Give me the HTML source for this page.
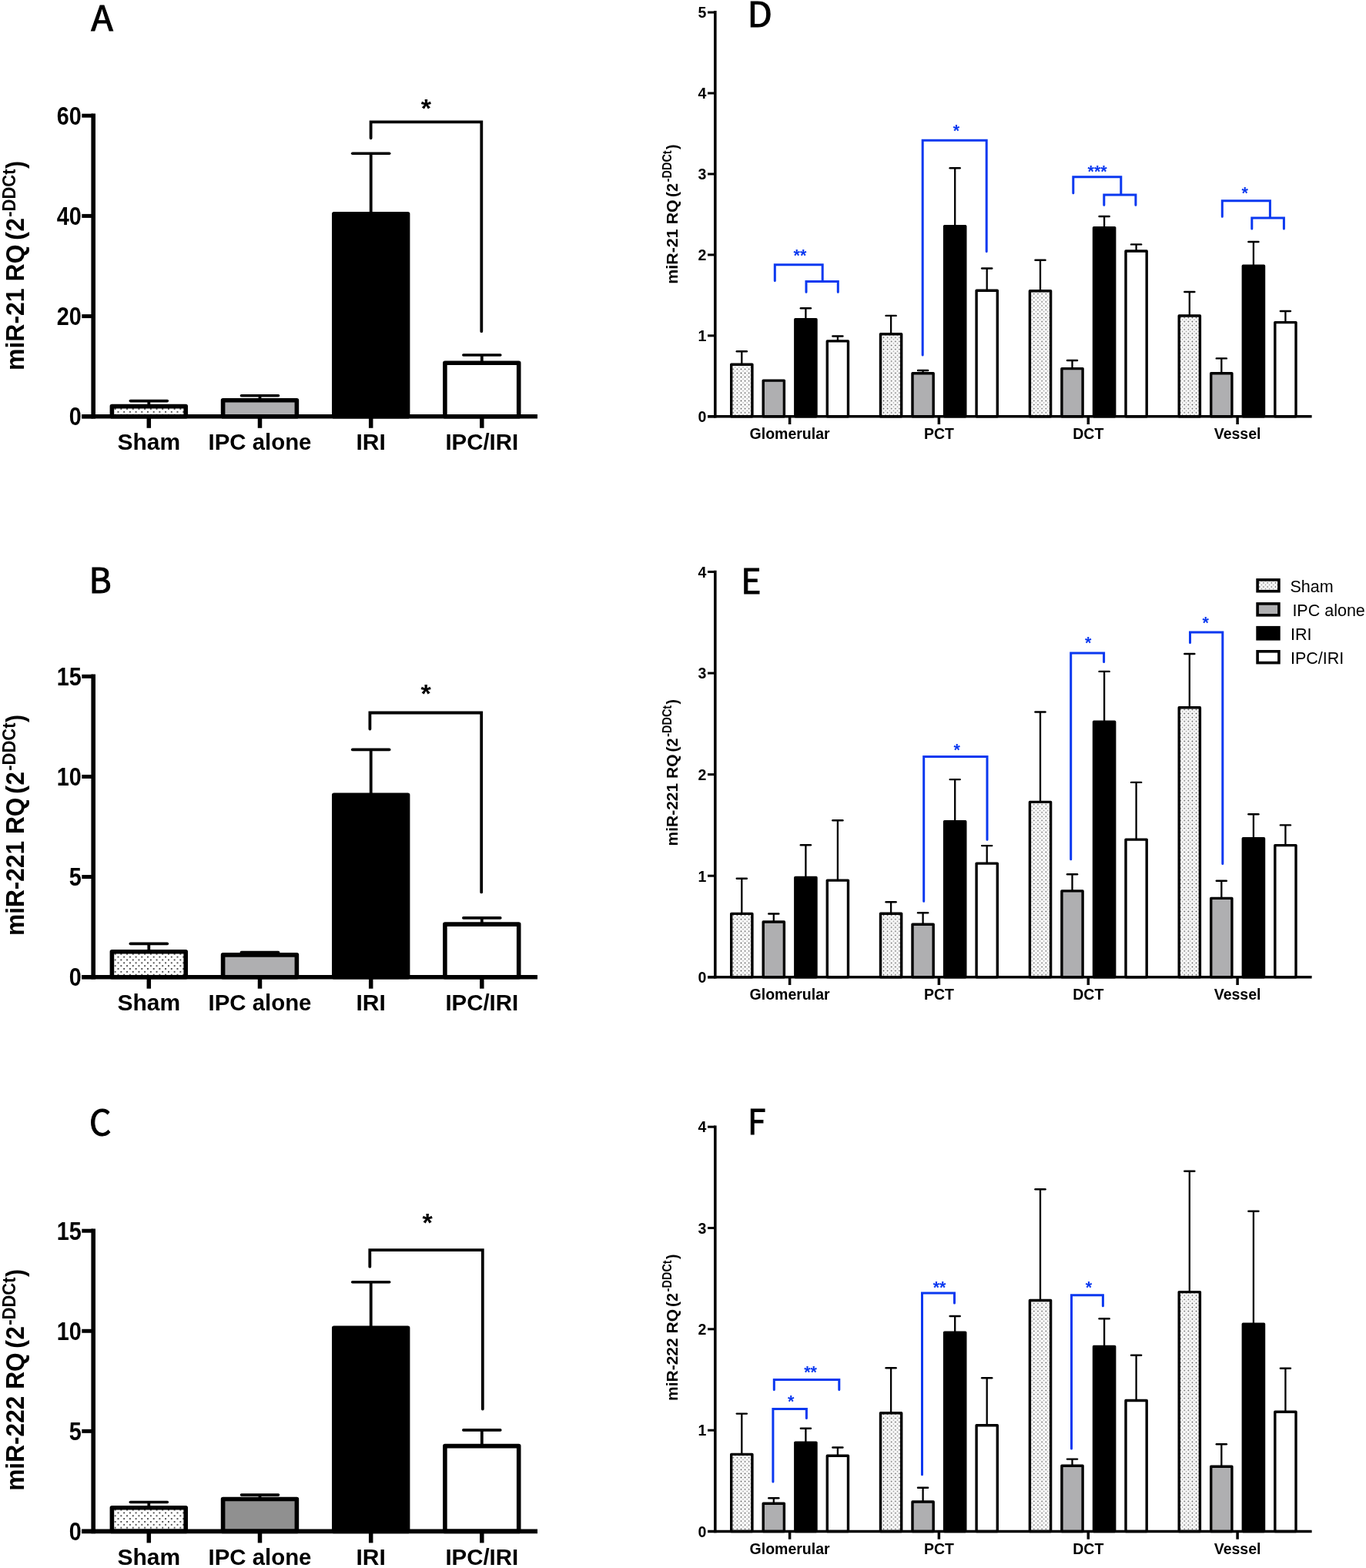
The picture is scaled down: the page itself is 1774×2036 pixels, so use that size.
<!DOCTYPE html>
<html><head><meta charset="utf-8"><title>miR-21 / miR-221 / miR-222 expression</title>
<style>html,body{margin:0;padding:0;background:#fff;width:1774px;height:2036px;overflow:hidden}svg{display:block}</style>
</head><body>
<svg width="1774" height="2036" viewBox="0 0 1774 2036" font-family="'Liberation Sans', Arial, Helvetica, sans-serif"><defs><pattern id="dotA" patternUnits="userSpaceOnUse" width="7.7" height="7.7" x="151.57" y="532.88"><rect width="7.7" height="7.7" fill="#fff"/><circle cx="1.925" cy="1.925" r="1.0" fill="#1a1a1a"/><circle cx="5.775" cy="5.775" r="1.0" fill="#1a1a1a"/></pattern><pattern id="dotB" patternUnits="userSpaceOnUse" width="7.7" height="7.7" x="151.57" y="1240.67"><rect width="7.7" height="7.7" fill="#fff"/><circle cx="1.925" cy="1.925" r="1.0" fill="#1a1a1a"/><circle cx="5.775" cy="5.775" r="1.0" fill="#1a1a1a"/></pattern><pattern id="dotC" patternUnits="userSpaceOnUse" width="7.7" height="7.7" x="151.57" y="1962.48"><rect width="7.7" height="7.7" fill="#fff"/><circle cx="1.925" cy="1.925" r="1.0" fill="#1a1a1a"/><circle cx="5.775" cy="5.775" r="1.0" fill="#1a1a1a"/></pattern><pattern id="dotR" patternUnits="userSpaceOnUse" width="5.14" height="5.14" x="0" y="0">
<rect width="5.14" height="5.14" fill="#fcfcfc"/>
<circle cx="1.3" cy="1.3" r="0.85" fill="#4a4a4a"/>
<circle cx="3.87" cy="3.87" r="0.85" fill="#9a9a9a"/>
</pattern></defs><rect width="1774" height="2036" fill="#fff"/><rect x="145.4" y="527.6" width="95.8" height="13.2" fill="url(#dotA)" stroke="#000" stroke-width="5.6" stroke-linejoin="round"/>
<rect x="289.6" y="519.7" width="95.8" height="21.1" fill="#afafb1" stroke="#000" stroke-width="5.6" stroke-linejoin="round"/>
<rect x="433.8" y="277.8" width="95.8" height="263" fill="#000" stroke="#000" stroke-width="5.6" stroke-linejoin="round"/>
<rect x="577.9" y="471.3" width="95.8" height="69.5" fill="#fff" stroke="#000" stroke-width="5.6" stroke-linejoin="round"/>
<line x1="193.3" y1="525.8" x2="193.3" y2="520.6" stroke="#000" stroke-width="3.8" stroke-linecap="butt"/>
<line x1="169.3" y1="520.6" x2="217.3" y2="520.6" stroke="#000" stroke-width="3.6" stroke-linecap="round"/>
<line x1="337.5" y1="517.9" x2="337.5" y2="513.7" stroke="#000" stroke-width="3.8" stroke-linecap="butt"/>
<line x1="313.5" y1="513.7" x2="361.5" y2="513.7" stroke="#000" stroke-width="3.6" stroke-linecap="round"/>
<line x1="481.7" y1="276" x2="481.7" y2="199.3" stroke="#000" stroke-width="3.8" stroke-linecap="butt"/>
<line x1="457.7" y1="199.3" x2="505.7" y2="199.3" stroke="#000" stroke-width="3.6" stroke-linecap="round"/>
<line x1="625.8" y1="469.5" x2="625.8" y2="461" stroke="#000" stroke-width="3.8" stroke-linecap="butt"/>
<line x1="601.8" y1="461" x2="649.8" y2="461" stroke="#000" stroke-width="3.6" stroke-linecap="round"/>
<line x1="121.2" y1="147.4" x2="121.2" y2="543.6" stroke="#000" stroke-width="5.6" stroke-linecap="butt"/>
<line x1="106.2" y1="540.8" x2="698" y2="540.8" stroke="#000" stroke-width="5.6" stroke-linecap="butt"/>
<line x1="106.3" y1="540.8" x2="121.2" y2="540.8" stroke="#000" stroke-width="5" stroke-linecap="butt"/>
<text transform="translate(105.8,552.4) scale(0.96,1.1)" font-size="30" font-weight="bold" text-anchor="end">0</text>
<line x1="106.3" y1="410.6" x2="121.2" y2="410.6" stroke="#000" stroke-width="5" stroke-linecap="butt"/>
<text transform="translate(105.8,422.2) scale(0.96,1.1)" font-size="30" font-weight="bold" text-anchor="end">20</text>
<line x1="106.3" y1="280.4" x2="121.2" y2="280.4" stroke="#000" stroke-width="5" stroke-linecap="butt"/>
<text transform="translate(105.8,292) scale(0.96,1.1)" font-size="30" font-weight="bold" text-anchor="end">40</text>
<line x1="106.3" y1="150.2" x2="121.2" y2="150.2" stroke="#000" stroke-width="5" stroke-linecap="butt"/>
<text transform="translate(105.8,161.8) scale(0.96,1.1)" font-size="30" font-weight="bold" text-anchor="end">60</text>
<line x1="193.3" y1="540.8" x2="193.3" y2="555.8" stroke="#000" stroke-width="5.5" stroke-linecap="butt"/>
<text transform="translate(193.3,584.4) scale(1,1)" font-size="30" font-weight="bold" text-anchor="middle">Sham</text>
<line x1="337.5" y1="540.8" x2="337.5" y2="555.8" stroke="#000" stroke-width="5.5" stroke-linecap="butt"/>
<text transform="translate(337.5,584.4) scale(0.98,1)" font-size="30" font-weight="bold" text-anchor="middle">IPC alone</text>
<line x1="481.7" y1="540.8" x2="481.7" y2="555.8" stroke="#000" stroke-width="5.5" stroke-linecap="butt"/>
<text transform="translate(481.7,584.4) scale(1,1)" font-size="30" font-weight="bold" text-anchor="middle">IRI</text>
<line x1="625.8" y1="540.8" x2="625.8" y2="555.8" stroke="#000" stroke-width="5.5" stroke-linecap="butt"/>
<text transform="translate(625.8,584.4) scale(0.98,1)" font-size="30" font-weight="bold" text-anchor="middle">IPC/IRI</text>
<path d="M481.6,179.3 V158.3 H625.3 V430.2" fill="none" stroke="#000" stroke-width="3.8" stroke-linecap="round" stroke-linejoin="miter"/>
<text x="553.3" y="152.2" font-size="34" font-weight="bold" text-anchor="middle" fill="#000">*</text>
<text transform="translate(31.4,481.05) rotate(-90) scale(0.97,1)" font-size="33" font-weight="bold">miR-21 RQ</text>
<text transform="translate(31.4,311.9) rotate(-90) scale(1,1)" font-size="33" font-weight="bold">(</text>
<text transform="translate(31.4,300.55) rotate(-90) scale(0.95,1)" font-size="33" font-weight="bold">2</text>
<text transform="translate(20.1,281.7) rotate(-90) scale(0.9,1)" font-size="24.4" font-weight="bold">-DDCt</text>
<text transform="translate(31.4,218.9) rotate(-90) scale(0.92,1)" font-size="33" font-weight="bold">)</text>
<text transform="translate(118.33,40.1) scale(1.06,1)" font-family="'Noto Sans CJK JP', 'Noto Sans CJK SC', 'Liberation Sans', sans-serif" font-size="44.5" font-weight="normal" stroke="#000" stroke-width="1.0">A</text>
<rect x="145.4" y="1235.7" width="95.8" height="33" fill="url(#dotB)" stroke="#000" stroke-width="5.6" stroke-linejoin="round"/>
<rect x="289.6" y="1239.9" width="95.8" height="28.8" fill="#afafb1" stroke="#000" stroke-width="5.6" stroke-linejoin="round"/>
<rect x="433.8" y="1032.3" width="95.8" height="236.4" fill="#000" stroke="#000" stroke-width="5.6" stroke-linejoin="round"/>
<rect x="577.9" y="1200.1" width="95.8" height="68.6" fill="#fff" stroke="#000" stroke-width="5.6" stroke-linejoin="round"/>
<line x1="193.3" y1="1233.9" x2="193.3" y2="1225.4" stroke="#000" stroke-width="3.8" stroke-linecap="butt"/>
<line x1="169.3" y1="1225.4" x2="217.3" y2="1225.4" stroke="#000" stroke-width="3.6" stroke-linecap="round"/>
<line x1="337.5" y1="1238.1" x2="337.5" y2="1236.6" stroke="#000" stroke-width="3.8" stroke-linecap="butt"/>
<line x1="313.5" y1="1236.6" x2="361.5" y2="1236.6" stroke="#000" stroke-width="3.6" stroke-linecap="round"/>
<line x1="481.7" y1="1030.5" x2="481.7" y2="973.4" stroke="#000" stroke-width="3.8" stroke-linecap="butt"/>
<line x1="457.7" y1="973.4" x2="505.7" y2="973.4" stroke="#000" stroke-width="3.6" stroke-linecap="round"/>
<line x1="625.8" y1="1198.3" x2="625.8" y2="1191.9" stroke="#000" stroke-width="3.8" stroke-linecap="butt"/>
<line x1="601.8" y1="1191.9" x2="649.8" y2="1191.9" stroke="#000" stroke-width="3.6" stroke-linecap="round"/>
<line x1="121.2" y1="875.5" x2="121.2" y2="1271.5" stroke="#000" stroke-width="5.6" stroke-linecap="butt"/>
<line x1="106.2" y1="1268.7" x2="698" y2="1268.7" stroke="#000" stroke-width="5.6" stroke-linecap="butt"/>
<line x1="106.3" y1="1268.7" x2="121.2" y2="1268.7" stroke="#000" stroke-width="5" stroke-linecap="butt"/>
<text transform="translate(105.8,1280.3) scale(0.96,1.1)" font-size="30" font-weight="bold" text-anchor="end">0</text>
<line x1="106.3" y1="1138.57" x2="121.2" y2="1138.57" stroke="#000" stroke-width="5" stroke-linecap="butt"/>
<text transform="translate(105.8,1150.17) scale(0.96,1.1)" font-size="30" font-weight="bold" text-anchor="end">5</text>
<line x1="106.3" y1="1008.43" x2="121.2" y2="1008.43" stroke="#000" stroke-width="5" stroke-linecap="butt"/>
<text transform="translate(105.8,1020.03) scale(0.96,1.1)" font-size="30" font-weight="bold" text-anchor="end">10</text>
<line x1="106.3" y1="878.3" x2="121.2" y2="878.3" stroke="#000" stroke-width="5" stroke-linecap="butt"/>
<text transform="translate(105.8,889.9) scale(0.96,1.1)" font-size="30" font-weight="bold" text-anchor="end">15</text>
<line x1="193.3" y1="1268.7" x2="193.3" y2="1283.7" stroke="#000" stroke-width="5.5" stroke-linecap="butt"/>
<text transform="translate(193.3,1312.3) scale(1,1)" font-size="30" font-weight="bold" text-anchor="middle">Sham</text>
<line x1="337.5" y1="1268.7" x2="337.5" y2="1283.7" stroke="#000" stroke-width="5.5" stroke-linecap="butt"/>
<text transform="translate(337.5,1312.3) scale(0.98,1)" font-size="30" font-weight="bold" text-anchor="middle">IPC alone</text>
<line x1="481.7" y1="1268.7" x2="481.7" y2="1283.7" stroke="#000" stroke-width="5.5" stroke-linecap="butt"/>
<text transform="translate(481.7,1312.3) scale(1,1)" font-size="30" font-weight="bold" text-anchor="middle">IRI</text>
<line x1="625.8" y1="1268.7" x2="625.8" y2="1283.7" stroke="#000" stroke-width="5.5" stroke-linecap="butt"/>
<text transform="translate(625.8,1312.3) scale(0.98,1)" font-size="30" font-weight="bold" text-anchor="middle">IPC/IRI</text>
<path d="M480.4,946.5 V925.5 H625.2 V1158.4" fill="none" stroke="#000" stroke-width="3.8" stroke-linecap="round" stroke-linejoin="miter"/>
<text x="553" y="912.3" font-size="34" font-weight="bold" text-anchor="middle" fill="#000">*</text>
<text transform="translate(31.4,1215.01) rotate(-90) scale(0.96,1)" font-size="33" font-weight="bold">miR-221 RQ</text>
<text transform="translate(31.4,1030.9) rotate(-90) scale(1,1)" font-size="33" font-weight="bold">(</text>
<text transform="translate(31.4,1019.55) rotate(-90) scale(0.95,1)" font-size="33" font-weight="bold">2</text>
<text transform="translate(20.1,1000.7) rotate(-90) scale(0.9,1)" font-size="24.4" font-weight="bold">-DDCt</text>
<text transform="translate(31.4,937.9) rotate(-90) scale(0.92,1)" font-size="33" font-weight="bold">)</text>
<text transform="translate(115.4,770.3) scale(1,1)" font-family="'Noto Sans CJK JP', 'Noto Sans CJK SC', 'Liberation Sans', sans-serif" font-size="44.5" font-weight="normal" stroke="#000" stroke-width="1.0">B</text>
<rect x="145.4" y="1957.8" width="95.8" height="30.6" fill="url(#dotC)" stroke="#000" stroke-width="5.6" stroke-linejoin="round"/>
<rect x="289.6" y="1946.5" width="95.8" height="41.9" fill="#909090" stroke="#000" stroke-width="5.6" stroke-linejoin="round"/>
<rect x="433.8" y="1724.2" width="95.8" height="264.2" fill="#000" stroke="#000" stroke-width="5.6" stroke-linejoin="round"/>
<rect x="577.9" y="1877.6" width="95.8" height="110.8" fill="#fff" stroke="#000" stroke-width="5.6" stroke-linejoin="round"/>
<line x1="193.3" y1="1956" x2="193.3" y2="1950.5" stroke="#000" stroke-width="3.8" stroke-linecap="butt"/>
<line x1="169.3" y1="1950.5" x2="217.3" y2="1950.5" stroke="#000" stroke-width="3.6" stroke-linecap="round"/>
<line x1="337.5" y1="1944.7" x2="337.5" y2="1941.1" stroke="#000" stroke-width="3.8" stroke-linecap="butt"/>
<line x1="313.5" y1="1941.1" x2="361.5" y2="1941.1" stroke="#000" stroke-width="3.6" stroke-linecap="round"/>
<line x1="481.7" y1="1722.4" x2="481.7" y2="1664.8" stroke="#000" stroke-width="3.8" stroke-linecap="butt"/>
<line x1="457.7" y1="1664.8" x2="505.7" y2="1664.8" stroke="#000" stroke-width="3.6" stroke-linecap="round"/>
<line x1="625.8" y1="1875.8" x2="625.8" y2="1856.9" stroke="#000" stroke-width="3.8" stroke-linecap="butt"/>
<line x1="601.8" y1="1856.9" x2="649.8" y2="1856.9" stroke="#000" stroke-width="3.6" stroke-linecap="round"/>
<line x1="121.2" y1="1595.4" x2="121.2" y2="1991.2" stroke="#000" stroke-width="5.6" stroke-linecap="butt"/>
<line x1="106.2" y1="1988.4" x2="698" y2="1988.4" stroke="#000" stroke-width="5.6" stroke-linecap="butt"/>
<line x1="106.3" y1="1988.4" x2="121.2" y2="1988.4" stroke="#000" stroke-width="5" stroke-linecap="butt"/>
<text transform="translate(105.8,2000) scale(0.96,1.1)" font-size="30" font-weight="bold" text-anchor="end">0</text>
<line x1="106.3" y1="1858.33" x2="121.2" y2="1858.33" stroke="#000" stroke-width="5" stroke-linecap="butt"/>
<text transform="translate(105.8,1869.93) scale(0.96,1.1)" font-size="30" font-weight="bold" text-anchor="end">5</text>
<line x1="106.3" y1="1728.27" x2="121.2" y2="1728.27" stroke="#000" stroke-width="5" stroke-linecap="butt"/>
<text transform="translate(105.8,1739.87) scale(0.96,1.1)" font-size="30" font-weight="bold" text-anchor="end">10</text>
<line x1="106.3" y1="1598.2" x2="121.2" y2="1598.2" stroke="#000" stroke-width="5" stroke-linecap="butt"/>
<text transform="translate(105.8,1609.8) scale(0.96,1.1)" font-size="30" font-weight="bold" text-anchor="end">15</text>
<line x1="193.3" y1="1988.4" x2="193.3" y2="2003.4" stroke="#000" stroke-width="5.5" stroke-linecap="butt"/>
<text transform="translate(193.3,2032) scale(1,1)" font-size="30" font-weight="bold" text-anchor="middle">Sham</text>
<line x1="337.5" y1="1988.4" x2="337.5" y2="2003.4" stroke="#000" stroke-width="5.5" stroke-linecap="butt"/>
<text transform="translate(337.5,2032) scale(0.98,1)" font-size="30" font-weight="bold" text-anchor="middle">IPC alone</text>
<line x1="481.7" y1="1988.4" x2="481.7" y2="2003.4" stroke="#000" stroke-width="5.5" stroke-linecap="butt"/>
<text transform="translate(481.7,2032) scale(1,1)" font-size="30" font-weight="bold" text-anchor="middle">IRI</text>
<line x1="625.8" y1="1988.4" x2="625.8" y2="2003.4" stroke="#000" stroke-width="5.5" stroke-linecap="butt"/>
<text transform="translate(625.8,2032) scale(0.98,1)" font-size="30" font-weight="bold" text-anchor="middle">IPC/IRI</text>
<path d="M480.3,1644.7 V1623.2 H626.8 V1829.6" fill="none" stroke="#000" stroke-width="3.8" stroke-linecap="round" stroke-linejoin="miter"/>
<text x="555.1" y="1599.2" font-size="34" font-weight="bold" text-anchor="middle" fill="#000">*</text>
<text transform="translate(31.4,1935.82) rotate(-90) scale(0.96,1)" font-size="33" font-weight="bold">miR-222 RQ</text>
<text transform="translate(31.4,1750.9) rotate(-90) scale(1,1)" font-size="33" font-weight="bold">(</text>
<text transform="translate(31.4,1739.55) rotate(-90) scale(0.95,1)" font-size="33" font-weight="bold">2</text>
<text transform="translate(20.1,1720.7) rotate(-90) scale(0.9,1)" font-size="24.4" font-weight="bold">-DDCt</text>
<text transform="translate(31.4,1657.9) rotate(-90) scale(0.92,1)" font-size="33" font-weight="bold">)</text>
<text transform="translate(116.1,1473.5) scale(1,1)" font-family="'Noto Sans CJK JP', 'Noto Sans CJK SC', 'Liberation Sans', sans-serif" font-size="44.5" font-weight="normal" stroke="#000" stroke-width="1.0">C</text>
<rect x="949.7" y="473.3" width="27.2" height="67.5" fill="url(#dotR)" stroke="#000" stroke-width="3.4" stroke-linejoin="round"/>
<rect x="991.2" y="494.1" width="27.2" height="46.7" fill="#afafb1" stroke="#000" stroke-width="3.4" stroke-linejoin="round"/>
<rect x="1032.8" y="414.8" width="27.2" height="126" fill="#000" stroke="#000" stroke-width="3.4" stroke-linejoin="round"/>
<rect x="1074.3" y="442.9" width="27.2" height="97.9" fill="#fff" stroke="#000" stroke-width="3.4" stroke-linejoin="round"/>
<rect x="1143.5" y="433.7" width="27.2" height="107.1" fill="url(#dotR)" stroke="#000" stroke-width="3.4" stroke-linejoin="round"/>
<rect x="1185" y="484.7" width="27.2" height="56.1" fill="#afafb1" stroke="#000" stroke-width="3.4" stroke-linejoin="round"/>
<rect x="1226.6" y="293.7" width="27.2" height="247.1" fill="#000" stroke="#000" stroke-width="3.4" stroke-linejoin="round"/>
<rect x="1268.1" y="377.2" width="27.2" height="163.6" fill="#fff" stroke="#000" stroke-width="3.4" stroke-linejoin="round"/>
<rect x="1337.4" y="377.7" width="27.2" height="163.1" fill="url(#dotR)" stroke="#000" stroke-width="3.4" stroke-linejoin="round"/>
<rect x="1378.9" y="478.6" width="27.2" height="62.2" fill="#afafb1" stroke="#000" stroke-width="3.4" stroke-linejoin="round"/>
<rect x="1420.5" y="295.6" width="27.2" height="245.2" fill="#000" stroke="#000" stroke-width="3.4" stroke-linejoin="round"/>
<rect x="1462" y="326" width="27.2" height="214.8" fill="#fff" stroke="#000" stroke-width="3.4" stroke-linejoin="round"/>
<rect x="1531.2" y="410" width="27.2" height="130.8" fill="url(#dotR)" stroke="#000" stroke-width="3.4" stroke-linejoin="round"/>
<rect x="1572.7" y="484.8" width="27.2" height="56" fill="#afafb1" stroke="#000" stroke-width="3.4" stroke-linejoin="round"/>
<rect x="1614.3" y="345.3" width="27.2" height="195.5" fill="#000" stroke="#000" stroke-width="3.4" stroke-linejoin="round"/>
<rect x="1655.8" y="418.6" width="27.2" height="122.2" fill="#fff" stroke="#000" stroke-width="3.4" stroke-linejoin="round"/>
<line x1="963.3" y1="472.6" x2="963.3" y2="456.2" stroke="#000" stroke-width="2.3" stroke-linecap="butt"/>
<line x1="956.75" y1="456.2" x2="969.85" y2="456.2" stroke="#000" stroke-width="2.4" stroke-linecap="round"/>
<line x1="1046.4" y1="414.1" x2="1046.4" y2="400.3" stroke="#000" stroke-width="2.3" stroke-linecap="butt"/>
<line x1="1039.85" y1="400.3" x2="1052.95" y2="400.3" stroke="#000" stroke-width="2.4" stroke-linecap="round"/>
<line x1="1087.9" y1="442.2" x2="1087.9" y2="436.5" stroke="#000" stroke-width="2.3" stroke-linecap="butt"/>
<line x1="1081.35" y1="436.5" x2="1094.45" y2="436.5" stroke="#000" stroke-width="2.4" stroke-linecap="round"/>
<line x1="1157.1" y1="433" x2="1157.1" y2="409.9" stroke="#000" stroke-width="2.3" stroke-linecap="butt"/>
<line x1="1150.55" y1="409.9" x2="1163.65" y2="409.9" stroke="#000" stroke-width="2.4" stroke-linecap="round"/>
<line x1="1198.6" y1="484" x2="1198.6" y2="481" stroke="#000" stroke-width="2.3" stroke-linecap="butt"/>
<line x1="1192.05" y1="481" x2="1205.15" y2="481" stroke="#000" stroke-width="2.4" stroke-linecap="round"/>
<line x1="1240.2" y1="293" x2="1240.2" y2="218.3" stroke="#000" stroke-width="2.3" stroke-linecap="butt"/>
<line x1="1233.65" y1="218.3" x2="1246.75" y2="218.3" stroke="#000" stroke-width="2.4" stroke-linecap="round"/>
<line x1="1281.7" y1="376.5" x2="1281.7" y2="348.5" stroke="#000" stroke-width="2.3" stroke-linecap="butt"/>
<line x1="1275.15" y1="348.5" x2="1288.25" y2="348.5" stroke="#000" stroke-width="2.4" stroke-linecap="round"/>
<line x1="1351" y1="377" x2="1351" y2="337.7" stroke="#000" stroke-width="2.3" stroke-linecap="butt"/>
<line x1="1344.45" y1="337.7" x2="1357.55" y2="337.7" stroke="#000" stroke-width="2.4" stroke-linecap="round"/>
<line x1="1392.5" y1="477.9" x2="1392.5" y2="468" stroke="#000" stroke-width="2.3" stroke-linecap="butt"/>
<line x1="1385.95" y1="468" x2="1399.05" y2="468" stroke="#000" stroke-width="2.4" stroke-linecap="round"/>
<line x1="1434.1" y1="294.9" x2="1434.1" y2="281" stroke="#000" stroke-width="2.3" stroke-linecap="butt"/>
<line x1="1427.55" y1="281" x2="1440.65" y2="281" stroke="#000" stroke-width="2.4" stroke-linecap="round"/>
<line x1="1475.6" y1="325.3" x2="1475.6" y2="317.4" stroke="#000" stroke-width="2.3" stroke-linecap="butt"/>
<line x1="1469.05" y1="317.4" x2="1482.15" y2="317.4" stroke="#000" stroke-width="2.4" stroke-linecap="round"/>
<line x1="1544.8" y1="409.3" x2="1544.8" y2="379" stroke="#000" stroke-width="2.3" stroke-linecap="butt"/>
<line x1="1538.25" y1="379" x2="1551.35" y2="379" stroke="#000" stroke-width="2.4" stroke-linecap="round"/>
<line x1="1586.3" y1="484.1" x2="1586.3" y2="465.4" stroke="#000" stroke-width="2.3" stroke-linecap="butt"/>
<line x1="1579.75" y1="465.4" x2="1592.85" y2="465.4" stroke="#000" stroke-width="2.4" stroke-linecap="round"/>
<line x1="1627.9" y1="344.6" x2="1627.9" y2="314" stroke="#000" stroke-width="2.3" stroke-linecap="butt"/>
<line x1="1621.35" y1="314" x2="1634.45" y2="314" stroke="#000" stroke-width="2.4" stroke-linecap="round"/>
<line x1="1669.4" y1="417.9" x2="1669.4" y2="404" stroke="#000" stroke-width="2.3" stroke-linecap="butt"/>
<line x1="1662.85" y1="404" x2="1675.95" y2="404" stroke="#000" stroke-width="2.4" stroke-linecap="round"/>
<line x1="928.8" y1="14.1" x2="928.8" y2="542.6" stroke="#000" stroke-width="3.6" stroke-linecap="butt"/>
<line x1="919" y1="540.8" x2="1703.6" y2="540.8" stroke="#000" stroke-width="3.6" stroke-linecap="butt"/>
<line x1="919" y1="540.8" x2="928.8" y2="540.8" stroke="#000" stroke-width="3" stroke-linecap="butt"/>
<text x="917.3" y="548.1" font-size="19.5" font-weight="bold" text-anchor="end" fill="#000">0</text>
<line x1="919" y1="435.85" x2="928.8" y2="435.85" stroke="#000" stroke-width="3" stroke-linecap="butt"/>
<text x="917.3" y="443.15" font-size="19.5" font-weight="bold" text-anchor="end" fill="#000">1</text>
<line x1="919" y1="330.9" x2="928.8" y2="330.9" stroke="#000" stroke-width="3" stroke-linecap="butt"/>
<text x="917.3" y="338.2" font-size="19.5" font-weight="bold" text-anchor="end" fill="#000">2</text>
<line x1="919" y1="225.95" x2="928.8" y2="225.95" stroke="#000" stroke-width="3" stroke-linecap="butt"/>
<text x="917.3" y="233.25" font-size="19.5" font-weight="bold" text-anchor="end" fill="#000">3</text>
<line x1="919" y1="121" x2="928.8" y2="121" stroke="#000" stroke-width="3" stroke-linecap="butt"/>
<text x="917.3" y="128.3" font-size="19.5" font-weight="bold" text-anchor="end" fill="#000">4</text>
<line x1="919" y1="16.05" x2="928.8" y2="16.05" stroke="#000" stroke-width="3" stroke-linecap="butt"/>
<text x="917.3" y="23.35" font-size="19.5" font-weight="bold" text-anchor="end" fill="#000">5</text>
<line x1="1025.6" y1="540.8" x2="1025.6" y2="551" stroke="#000" stroke-width="3.5" stroke-linecap="butt"/>
<text x="1025.6" y="570.2" font-size="19.5" font-weight="bold" text-anchor="middle" fill="#000">Glomerular</text>
<line x1="1219.4" y1="540.8" x2="1219.4" y2="551" stroke="#000" stroke-width="3.5" stroke-linecap="butt"/>
<text x="1219.4" y="570.2" font-size="19.5" font-weight="bold" text-anchor="middle" fill="#000">PCT</text>
<line x1="1413.3" y1="540.8" x2="1413.3" y2="551" stroke="#000" stroke-width="3.5" stroke-linecap="butt"/>
<text x="1413.3" y="570.2" font-size="19.5" font-weight="bold" text-anchor="middle" fill="#000">DCT</text>
<line x1="1607.1" y1="540.8" x2="1607.1" y2="551" stroke="#000" stroke-width="3.5" stroke-linecap="butt"/>
<text x="1607.1" y="570.2" font-size="19.5" font-weight="bold" text-anchor="middle" fill="#000">Vessel</text>
<path d="M1006.3,364.5 V343.7 H1068.2 V364 M1047,379.2 V365.5 H1088.3 V379.2" fill="none" stroke="#0a38f0" stroke-width="3" stroke-linecap="round" stroke-linejoin="miter"/>
<text x="1038.9" y="339.4" font-size="21.5" font-weight="bold" text-anchor="middle" fill="#0a38f0">**</text>
<path d="M1198.2,461 V182.3 H1281.2 V326.6" fill="none" stroke="#0a38f0" stroke-width="3" stroke-linecap="round" stroke-linejoin="miter"/>
<text x="1242" y="177.4" font-size="21.5" font-weight="bold" text-anchor="middle" fill="#0a38f0">*</text>
<path d="M1393.8,250.8 V229.8 H1455.8 V251.4 M1433.8,266.3 V252.9 H1474.9 V266.3" fill="none" stroke="#0a38f0" stroke-width="3" stroke-linecap="round" stroke-linejoin="miter"/>
<text x="1425.1" y="230.2" font-size="21.5" font-weight="bold" text-anchor="middle" fill="#0a38f0">***</text>
<path d="M1587.3,281.3 V260.8 H1649.4 V281.5 M1625.8,297 V283 H1667.4 V297" fill="none" stroke="#0a38f0" stroke-width="3" stroke-linecap="round" stroke-linejoin="miter"/>
<text x="1616.7" y="258.4" font-size="21.5" font-weight="bold" text-anchor="middle" fill="#0a38f0">*</text>
<text transform="translate(879.6,368.72) rotate(-90) scale(1.02,1)" font-size="21" font-weight="bold">miR-21 RQ</text>
<text transform="translate(879.6,256.1) rotate(-90) scale(1,1)" font-size="21" font-weight="bold">(</text>
<text transform="translate(879.6,249.05) rotate(-90) scale(0.95,1)" font-size="21" font-weight="bold">2</text>
<text transform="translate(872.4,236.25) rotate(-90) scale(0.85,1)" font-size="17" font-weight="bold">-DDCt</text>
<text transform="translate(879.6,193.9) rotate(-90) scale(0.92,1)" font-size="21" font-weight="bold">)</text>
<text transform="translate(970.44,34.7) scale(1.06,1)" font-family="'Noto Sans CJK JP', 'Noto Sans CJK SC', 'Liberation Sans', sans-serif" font-size="44.5" font-weight="normal" stroke="#000" stroke-width="1.0">D</text>
<rect x="949.7" y="1186.4" width="27.2" height="82.4" fill="url(#dotR)" stroke="#000" stroke-width="3.4" stroke-linejoin="round"/>
<rect x="991.2" y="1197" width="27.2" height="71.8" fill="#afafb1" stroke="#000" stroke-width="3.4" stroke-linejoin="round"/>
<rect x="1032.8" y="1139.4" width="27.2" height="129.4" fill="#000" stroke="#000" stroke-width="3.4" stroke-linejoin="round"/>
<rect x="1074.3" y="1143.1" width="27.2" height="125.7" fill="#fff" stroke="#000" stroke-width="3.4" stroke-linejoin="round"/>
<rect x="1143.5" y="1186.2" width="27.2" height="82.6" fill="url(#dotR)" stroke="#000" stroke-width="3.4" stroke-linejoin="round"/>
<rect x="1185" y="1200.3" width="27.2" height="68.5" fill="#afafb1" stroke="#000" stroke-width="3.4" stroke-linejoin="round"/>
<rect x="1226.6" y="1066.8" width="27.2" height="202" fill="#000" stroke="#000" stroke-width="3.4" stroke-linejoin="round"/>
<rect x="1268.1" y="1121.1" width="27.2" height="147.7" fill="#fff" stroke="#000" stroke-width="3.4" stroke-linejoin="round"/>
<rect x="1337.4" y="1041.4" width="27.2" height="227.4" fill="url(#dotR)" stroke="#000" stroke-width="3.4" stroke-linejoin="round"/>
<rect x="1378.9" y="1156.9" width="27.2" height="111.9" fill="#afafb1" stroke="#000" stroke-width="3.4" stroke-linejoin="round"/>
<rect x="1420.5" y="937.3" width="27.2" height="331.5" fill="#000" stroke="#000" stroke-width="3.4" stroke-linejoin="round"/>
<rect x="1462" y="1090.1" width="27.2" height="178.7" fill="#fff" stroke="#000" stroke-width="3.4" stroke-linejoin="round"/>
<rect x="1531.2" y="918.8" width="27.2" height="350" fill="url(#dotR)" stroke="#000" stroke-width="3.4" stroke-linejoin="round"/>
<rect x="1572.7" y="1166.4" width="27.2" height="102.4" fill="#afafb1" stroke="#000" stroke-width="3.4" stroke-linejoin="round"/>
<rect x="1614.3" y="1088.8" width="27.2" height="180" fill="#000" stroke="#000" stroke-width="3.4" stroke-linejoin="round"/>
<rect x="1655.8" y="1097.6" width="27.2" height="171.2" fill="#fff" stroke="#000" stroke-width="3.4" stroke-linejoin="round"/>
<line x1="963.3" y1="1185.7" x2="963.3" y2="1140.8" stroke="#000" stroke-width="2.3" stroke-linecap="butt"/>
<line x1="956.75" y1="1140.8" x2="969.85" y2="1140.8" stroke="#000" stroke-width="2.4" stroke-linecap="round"/>
<line x1="1004.8" y1="1196.3" x2="1004.8" y2="1186.5" stroke="#000" stroke-width="2.3" stroke-linecap="butt"/>
<line x1="998.25" y1="1186.5" x2="1011.35" y2="1186.5" stroke="#000" stroke-width="2.4" stroke-linecap="round"/>
<line x1="1046.4" y1="1138.7" x2="1046.4" y2="1097.2" stroke="#000" stroke-width="2.3" stroke-linecap="butt"/>
<line x1="1039.85" y1="1097.2" x2="1052.95" y2="1097.2" stroke="#000" stroke-width="2.4" stroke-linecap="round"/>
<line x1="1087.9" y1="1142.4" x2="1087.9" y2="1065.3" stroke="#000" stroke-width="2.3" stroke-linecap="butt"/>
<line x1="1081.35" y1="1065.3" x2="1094.45" y2="1065.3" stroke="#000" stroke-width="2.4" stroke-linecap="round"/>
<line x1="1157.1" y1="1185.5" x2="1157.1" y2="1171.3" stroke="#000" stroke-width="2.3" stroke-linecap="butt"/>
<line x1="1150.55" y1="1171.3" x2="1163.65" y2="1171.3" stroke="#000" stroke-width="2.4" stroke-linecap="round"/>
<line x1="1198.6" y1="1199.6" x2="1198.6" y2="1185.2" stroke="#000" stroke-width="2.3" stroke-linecap="butt"/>
<line x1="1192.05" y1="1185.2" x2="1205.15" y2="1185.2" stroke="#000" stroke-width="2.4" stroke-linecap="round"/>
<line x1="1240.2" y1="1066.1" x2="1240.2" y2="1012.1" stroke="#000" stroke-width="2.3" stroke-linecap="butt"/>
<line x1="1233.65" y1="1012.1" x2="1246.75" y2="1012.1" stroke="#000" stroke-width="2.4" stroke-linecap="round"/>
<line x1="1281.7" y1="1120.4" x2="1281.7" y2="1098.1" stroke="#000" stroke-width="2.3" stroke-linecap="butt"/>
<line x1="1275.15" y1="1098.1" x2="1288.25" y2="1098.1" stroke="#000" stroke-width="2.4" stroke-linecap="round"/>
<line x1="1351" y1="1040.7" x2="1351" y2="924.5" stroke="#000" stroke-width="2.3" stroke-linecap="butt"/>
<line x1="1344.45" y1="924.5" x2="1357.55" y2="924.5" stroke="#000" stroke-width="2.4" stroke-linecap="round"/>
<line x1="1392.5" y1="1156.2" x2="1392.5" y2="1135.2" stroke="#000" stroke-width="2.3" stroke-linecap="butt"/>
<line x1="1385.95" y1="1135.2" x2="1399.05" y2="1135.2" stroke="#000" stroke-width="2.4" stroke-linecap="round"/>
<line x1="1434.1" y1="936.6" x2="1434.1" y2="871.9" stroke="#000" stroke-width="2.3" stroke-linecap="butt"/>
<line x1="1427.55" y1="871.9" x2="1440.65" y2="871.9" stroke="#000" stroke-width="2.4" stroke-linecap="round"/>
<line x1="1475.6" y1="1089.4" x2="1475.6" y2="1015.9" stroke="#000" stroke-width="2.3" stroke-linecap="butt"/>
<line x1="1469.05" y1="1015.9" x2="1482.15" y2="1015.9" stroke="#000" stroke-width="2.4" stroke-linecap="round"/>
<line x1="1544.8" y1="918.1" x2="1544.8" y2="849" stroke="#000" stroke-width="2.3" stroke-linecap="butt"/>
<line x1="1538.25" y1="849" x2="1551.35" y2="849" stroke="#000" stroke-width="2.4" stroke-linecap="round"/>
<line x1="1586.3" y1="1165.7" x2="1586.3" y2="1143.8" stroke="#000" stroke-width="2.3" stroke-linecap="butt"/>
<line x1="1579.75" y1="1143.8" x2="1592.85" y2="1143.8" stroke="#000" stroke-width="2.4" stroke-linecap="round"/>
<line x1="1627.9" y1="1088.1" x2="1627.9" y2="1057.3" stroke="#000" stroke-width="2.3" stroke-linecap="butt"/>
<line x1="1621.35" y1="1057.3" x2="1634.45" y2="1057.3" stroke="#000" stroke-width="2.4" stroke-linecap="round"/>
<line x1="1669.4" y1="1096.9" x2="1669.4" y2="1071.4" stroke="#000" stroke-width="2.3" stroke-linecap="butt"/>
<line x1="1662.85" y1="1071.4" x2="1675.95" y2="1071.4" stroke="#000" stroke-width="2.4" stroke-linecap="round"/>
<line x1="928.8" y1="740.8" x2="928.8" y2="1270.6" stroke="#000" stroke-width="3.6" stroke-linecap="butt"/>
<line x1="919" y1="1268.8" x2="1703.6" y2="1268.8" stroke="#000" stroke-width="3.6" stroke-linecap="butt"/>
<line x1="919" y1="1268.8" x2="928.8" y2="1268.8" stroke="#000" stroke-width="3" stroke-linecap="butt"/>
<text x="917.3" y="1276.1" font-size="19.5" font-weight="bold" text-anchor="end" fill="#000">0</text>
<line x1="919" y1="1137.22" x2="928.8" y2="1137.22" stroke="#000" stroke-width="3" stroke-linecap="butt"/>
<text x="917.3" y="1144.52" font-size="19.5" font-weight="bold" text-anchor="end" fill="#000">1</text>
<line x1="919" y1="1005.64" x2="928.8" y2="1005.64" stroke="#000" stroke-width="3" stroke-linecap="butt"/>
<text x="917.3" y="1012.94" font-size="19.5" font-weight="bold" text-anchor="end" fill="#000">2</text>
<line x1="919" y1="874.06" x2="928.8" y2="874.06" stroke="#000" stroke-width="3" stroke-linecap="butt"/>
<text x="917.3" y="881.36" font-size="19.5" font-weight="bold" text-anchor="end" fill="#000">3</text>
<line x1="919" y1="742.48" x2="928.8" y2="742.48" stroke="#000" stroke-width="3" stroke-linecap="butt"/>
<text x="917.3" y="749.78" font-size="19.5" font-weight="bold" text-anchor="end" fill="#000">4</text>
<line x1="1025.6" y1="1268.8" x2="1025.6" y2="1279" stroke="#000" stroke-width="3.5" stroke-linecap="butt"/>
<text x="1025.6" y="1298.2" font-size="19.5" font-weight="bold" text-anchor="middle" fill="#000">Glomerular</text>
<line x1="1219.4" y1="1268.8" x2="1219.4" y2="1279" stroke="#000" stroke-width="3.5" stroke-linecap="butt"/>
<text x="1219.4" y="1298.2" font-size="19.5" font-weight="bold" text-anchor="middle" fill="#000">PCT</text>
<line x1="1413.3" y1="1268.8" x2="1413.3" y2="1279" stroke="#000" stroke-width="3.5" stroke-linecap="butt"/>
<text x="1413.3" y="1298.2" font-size="19.5" font-weight="bold" text-anchor="middle" fill="#000">DCT</text>
<line x1="1607.1" y1="1268.8" x2="1607.1" y2="1279" stroke="#000" stroke-width="3.5" stroke-linecap="butt"/>
<text x="1607.1" y="1298.2" font-size="19.5" font-weight="bold" text-anchor="middle" fill="#000">Vessel</text>
<path d="M1199.7,1170.3 V982.5 H1282 V1090.2" fill="none" stroke="#0a38f0" stroke-width="3" stroke-linecap="round" stroke-linejoin="miter"/>
<text x="1242.6" y="980.6" font-size="21.5" font-weight="bold" text-anchor="middle" fill="#0a38f0">*</text>
<path d="M1390.7,1115.8 V847.9 H1433.6 V859.4" fill="none" stroke="#0a38f0" stroke-width="3" stroke-linecap="round" stroke-linejoin="miter"/>
<text x="1413.3" y="841.5" font-size="21.5" font-weight="bold" text-anchor="middle" fill="#0a38f0">*</text>
<path d="M1545.5,834.5 V821 H1587.8 V1121.5" fill="none" stroke="#0a38f0" stroke-width="3" stroke-linecap="round" stroke-linejoin="miter"/>
<text x="1565.7" y="815.6" font-size="21.5" font-weight="bold" text-anchor="middle" fill="#0a38f0">*</text>
<text transform="translate(879.6,1098.5) rotate(-90) scale(1,1)" font-size="21" font-weight="bold">miR-221 RQ</text>
<text transform="translate(879.6,976.6) rotate(-90) scale(1,1)" font-size="21" font-weight="bold">(</text>
<text transform="translate(879.6,969.55) rotate(-90) scale(0.95,1)" font-size="21" font-weight="bold">2</text>
<text transform="translate(872.4,956.75) rotate(-90) scale(0.85,1)" font-size="17" font-weight="bold">-DDCt</text>
<text transform="translate(879.6,914.4) rotate(-90) scale(0.92,1)" font-size="21" font-weight="bold">)</text>
<text transform="translate(962.3,770.7) scale(1,1)" font-family="'Noto Sans CJK JP', 'Noto Sans CJK SC', 'Liberation Sans', sans-serif" font-size="44.5" font-weight="normal" stroke="#000" stroke-width="1.0">E</text>
<rect x="949.7" y="1888.4" width="27.2" height="100.1" fill="url(#dotR)" stroke="#000" stroke-width="3.4" stroke-linejoin="round"/>
<rect x="991.2" y="1952.2" width="27.2" height="36.3" fill="#afafb1" stroke="#000" stroke-width="3.4" stroke-linejoin="round"/>
<rect x="1032.8" y="1873.1" width="27.2" height="115.4" fill="#000" stroke="#000" stroke-width="3.4" stroke-linejoin="round"/>
<rect x="1074.3" y="1890.2" width="27.2" height="98.3" fill="#fff" stroke="#000" stroke-width="3.4" stroke-linejoin="round"/>
<rect x="1143.5" y="1834.7" width="27.2" height="153.8" fill="url(#dotR)" stroke="#000" stroke-width="3.4" stroke-linejoin="round"/>
<rect x="1185" y="1950" width="27.2" height="38.5" fill="#afafb1" stroke="#000" stroke-width="3.4" stroke-linejoin="round"/>
<rect x="1226.6" y="1730.2" width="27.2" height="258.3" fill="#000" stroke="#000" stroke-width="3.4" stroke-linejoin="round"/>
<rect x="1268.1" y="1850.8" width="27.2" height="137.7" fill="#fff" stroke="#000" stroke-width="3.4" stroke-linejoin="round"/>
<rect x="1337.4" y="1688.5" width="27.2" height="300" fill="url(#dotR)" stroke="#000" stroke-width="3.4" stroke-linejoin="round"/>
<rect x="1378.9" y="1903.3" width="27.2" height="85.2" fill="#afafb1" stroke="#000" stroke-width="3.4" stroke-linejoin="round"/>
<rect x="1420.5" y="1748.4" width="27.2" height="240.1" fill="#000" stroke="#000" stroke-width="3.4" stroke-linejoin="round"/>
<rect x="1462" y="1818.5" width="27.2" height="170" fill="#fff" stroke="#000" stroke-width="3.4" stroke-linejoin="round"/>
<rect x="1531.2" y="1677.6" width="27.2" height="310.9" fill="url(#dotR)" stroke="#000" stroke-width="3.4" stroke-linejoin="round"/>
<rect x="1572.7" y="1904.3" width="27.2" height="84.2" fill="#afafb1" stroke="#000" stroke-width="3.4" stroke-linejoin="round"/>
<rect x="1614.3" y="1719.3" width="27.2" height="269.2" fill="#000" stroke="#000" stroke-width="3.4" stroke-linejoin="round"/>
<rect x="1655.8" y="1833.2" width="27.2" height="155.3" fill="#fff" stroke="#000" stroke-width="3.4" stroke-linejoin="round"/>
<line x1="963.3" y1="1887.7" x2="963.3" y2="1835.6" stroke="#000" stroke-width="2.3" stroke-linecap="butt"/>
<line x1="956.75" y1="1835.6" x2="969.85" y2="1835.6" stroke="#000" stroke-width="2.4" stroke-linecap="round"/>
<line x1="1004.8" y1="1951.5" x2="1004.8" y2="1945.2" stroke="#000" stroke-width="2.3" stroke-linecap="butt"/>
<line x1="998.25" y1="1945.2" x2="1011.35" y2="1945.2" stroke="#000" stroke-width="2.4" stroke-linecap="round"/>
<line x1="1046.4" y1="1872.4" x2="1046.4" y2="1854.7" stroke="#000" stroke-width="2.3" stroke-linecap="butt"/>
<line x1="1039.85" y1="1854.7" x2="1052.95" y2="1854.7" stroke="#000" stroke-width="2.4" stroke-linecap="round"/>
<line x1="1087.9" y1="1889.5" x2="1087.9" y2="1879.5" stroke="#000" stroke-width="2.3" stroke-linecap="butt"/>
<line x1="1081.35" y1="1879.5" x2="1094.45" y2="1879.5" stroke="#000" stroke-width="2.4" stroke-linecap="round"/>
<line x1="1157.1" y1="1834" x2="1157.1" y2="1776.2" stroke="#000" stroke-width="2.3" stroke-linecap="butt"/>
<line x1="1150.55" y1="1776.2" x2="1163.65" y2="1776.2" stroke="#000" stroke-width="2.4" stroke-linecap="round"/>
<line x1="1198.6" y1="1949.3" x2="1198.6" y2="1931.8" stroke="#000" stroke-width="2.3" stroke-linecap="butt"/>
<line x1="1192.05" y1="1931.8" x2="1205.15" y2="1931.8" stroke="#000" stroke-width="2.4" stroke-linecap="round"/>
<line x1="1240.2" y1="1729.5" x2="1240.2" y2="1709" stroke="#000" stroke-width="2.3" stroke-linecap="butt"/>
<line x1="1233.65" y1="1709" x2="1246.75" y2="1709" stroke="#000" stroke-width="2.4" stroke-linecap="round"/>
<line x1="1281.7" y1="1850.1" x2="1281.7" y2="1789.2" stroke="#000" stroke-width="2.3" stroke-linecap="butt"/>
<line x1="1275.15" y1="1789.2" x2="1288.25" y2="1789.2" stroke="#000" stroke-width="2.4" stroke-linecap="round"/>
<line x1="1351" y1="1687.8" x2="1351" y2="1544.2" stroke="#000" stroke-width="2.3" stroke-linecap="butt"/>
<line x1="1344.45" y1="1544.2" x2="1357.55" y2="1544.2" stroke="#000" stroke-width="2.4" stroke-linecap="round"/>
<line x1="1392.5" y1="1902.6" x2="1392.5" y2="1894.6" stroke="#000" stroke-width="2.3" stroke-linecap="butt"/>
<line x1="1385.95" y1="1894.6" x2="1399.05" y2="1894.6" stroke="#000" stroke-width="2.4" stroke-linecap="round"/>
<line x1="1434.1" y1="1747.7" x2="1434.1" y2="1712.2" stroke="#000" stroke-width="2.3" stroke-linecap="butt"/>
<line x1="1427.55" y1="1712.2" x2="1440.65" y2="1712.2" stroke="#000" stroke-width="2.4" stroke-linecap="round"/>
<line x1="1475.6" y1="1817.8" x2="1475.6" y2="1759.8" stroke="#000" stroke-width="2.3" stroke-linecap="butt"/>
<line x1="1469.05" y1="1759.8" x2="1482.15" y2="1759.8" stroke="#000" stroke-width="2.4" stroke-linecap="round"/>
<line x1="1544.8" y1="1676.9" x2="1544.8" y2="1520.7" stroke="#000" stroke-width="2.3" stroke-linecap="butt"/>
<line x1="1538.25" y1="1520.7" x2="1551.35" y2="1520.7" stroke="#000" stroke-width="2.4" stroke-linecap="round"/>
<line x1="1586.3" y1="1903.6" x2="1586.3" y2="1875.2" stroke="#000" stroke-width="2.3" stroke-linecap="butt"/>
<line x1="1579.75" y1="1875.2" x2="1592.85" y2="1875.2" stroke="#000" stroke-width="2.4" stroke-linecap="round"/>
<line x1="1627.9" y1="1718.6" x2="1627.9" y2="1572.8" stroke="#000" stroke-width="2.3" stroke-linecap="butt"/>
<line x1="1621.35" y1="1572.8" x2="1634.45" y2="1572.8" stroke="#000" stroke-width="2.4" stroke-linecap="round"/>
<line x1="1669.4" y1="1832.5" x2="1669.4" y2="1776.8" stroke="#000" stroke-width="2.3" stroke-linecap="butt"/>
<line x1="1662.85" y1="1776.8" x2="1675.95" y2="1776.8" stroke="#000" stroke-width="2.4" stroke-linecap="round"/>
<line x1="928.8" y1="1461.5" x2="928.8" y2="1990.3" stroke="#000" stroke-width="3.6" stroke-linecap="butt"/>
<line x1="919" y1="1988.5" x2="1703.6" y2="1988.5" stroke="#000" stroke-width="3.6" stroke-linecap="butt"/>
<line x1="919" y1="1988.5" x2="928.8" y2="1988.5" stroke="#000" stroke-width="3" stroke-linecap="butt"/>
<text x="917.3" y="1995.8" font-size="19.5" font-weight="bold" text-anchor="end" fill="#000">0</text>
<line x1="919" y1="1857.17" x2="928.8" y2="1857.17" stroke="#000" stroke-width="3" stroke-linecap="butt"/>
<text x="917.3" y="1864.47" font-size="19.5" font-weight="bold" text-anchor="end" fill="#000">1</text>
<line x1="919" y1="1725.84" x2="928.8" y2="1725.84" stroke="#000" stroke-width="3" stroke-linecap="butt"/>
<text x="917.3" y="1733.14" font-size="19.5" font-weight="bold" text-anchor="end" fill="#000">2</text>
<line x1="919" y1="1594.51" x2="928.8" y2="1594.51" stroke="#000" stroke-width="3" stroke-linecap="butt"/>
<text x="917.3" y="1601.81" font-size="19.5" font-weight="bold" text-anchor="end" fill="#000">3</text>
<line x1="919" y1="1463.18" x2="928.8" y2="1463.18" stroke="#000" stroke-width="3" stroke-linecap="butt"/>
<text x="917.3" y="1470.48" font-size="19.5" font-weight="bold" text-anchor="end" fill="#000">4</text>
<line x1="1025.6" y1="1988.5" x2="1025.6" y2="1998.7" stroke="#000" stroke-width="3.5" stroke-linecap="butt"/>
<text x="1025.6" y="2017.9" font-size="19.5" font-weight="bold" text-anchor="middle" fill="#000">Glomerular</text>
<line x1="1219.4" y1="1988.5" x2="1219.4" y2="1998.7" stroke="#000" stroke-width="3.5" stroke-linecap="butt"/>
<text x="1219.4" y="2017.9" font-size="19.5" font-weight="bold" text-anchor="middle" fill="#000">PCT</text>
<line x1="1413.3" y1="1988.5" x2="1413.3" y2="1998.7" stroke="#000" stroke-width="3.5" stroke-linecap="butt"/>
<text x="1413.3" y="2017.9" font-size="19.5" font-weight="bold" text-anchor="middle" fill="#000">DCT</text>
<line x1="1607.1" y1="1988.5" x2="1607.1" y2="1998.7" stroke="#000" stroke-width="3.5" stroke-linecap="butt"/>
<text x="1607.1" y="2017.9" font-size="19.5" font-weight="bold" text-anchor="middle" fill="#000">Vessel</text>
<path d="M1005.3,1804.6 V1791.4 H1089.8 V1804.6" fill="none" stroke="#0a38f0" stroke-width="3" stroke-linecap="round" stroke-linejoin="miter"/>
<text x="1052.6" y="1788.8" font-size="21.5" font-weight="bold" text-anchor="middle" fill="#0a38f0">**</text>
<path d="M1003.9,1923.9 V1829.5 H1047.4 V1841.5" fill="none" stroke="#0a38f0" stroke-width="3" stroke-linecap="round" stroke-linejoin="miter"/>
<text x="1027.2" y="1827.4" font-size="21.5" font-weight="bold" text-anchor="middle" fill="#0a38f0">*</text>
<path d="M1197.5,1914.7 V1678.9 H1239.5 V1692" fill="none" stroke="#0a38f0" stroke-width="3" stroke-linecap="round" stroke-linejoin="miter"/>
<text x="1220" y="1678.6" font-size="21.5" font-weight="bold" text-anchor="middle" fill="#0a38f0">**</text>
<path d="M1391.5,1881.1 V1681.8 H1432.4 V1695.7" fill="none" stroke="#0a38f0" stroke-width="3" stroke-linecap="round" stroke-linejoin="miter"/>
<text x="1414" y="1679.2" font-size="21.5" font-weight="bold" text-anchor="middle" fill="#0a38f0">*</text>
<text transform="translate(879.6,1819) rotate(-90) scale(1,1)" font-size="21" font-weight="bold">miR-222 RQ</text>
<text transform="translate(879.6,1697.1) rotate(-90) scale(1,1)" font-size="21" font-weight="bold">(</text>
<text transform="translate(879.6,1690.05) rotate(-90) scale(0.95,1)" font-size="21" font-weight="bold">2</text>
<text transform="translate(872.4,1677.25) rotate(-90) scale(0.85,1)" font-size="17" font-weight="bold">-DDCt</text>
<text transform="translate(879.6,1634.9) rotate(-90) scale(0.92,1)" font-size="21" font-weight="bold">)</text>
<text transform="translate(971.12,1472.5) scale(0.95,1)" font-family="'Noto Sans CJK JP', 'Noto Sans CJK SC', 'Liberation Sans', sans-serif" font-size="44.5" font-weight="normal" stroke="#000" stroke-width="1.0">F</text>
<rect x="1633.1" y="752.9" width="27.8" height="14.8" fill="url(#dotR)" stroke="#000" stroke-width="3.6"/>
<text x="1675.4" y="768.8" font-size="21.5" font-weight="normal" text-anchor="start" fill="#000">Sham</text>
<rect x="1633.1" y="783.9" width="27.8" height="14.9" fill="#afafb1" stroke="#000" stroke-width="3.6"/>
<text x="1678.4" y="799.9" font-size="21.5" font-weight="normal" text-anchor="start" fill="#000">IPC alone</text>
<rect x="1633.1" y="814.7" width="27.8" height="15.1" fill="#000" stroke="#000" stroke-width="3.6"/>
<text x="1676" y="830.7" font-size="21.5" font-weight="normal" text-anchor="start" fill="#000">IRI</text>
<rect x="1633.1" y="845.8" width="27.8" height="14.8" fill="#fff" stroke="#000" stroke-width="3.6"/>
<text x="1676" y="861.5" font-size="21.5" font-weight="normal" text-anchor="start" fill="#000">IPC/IRI</text></svg>
</body></html>
